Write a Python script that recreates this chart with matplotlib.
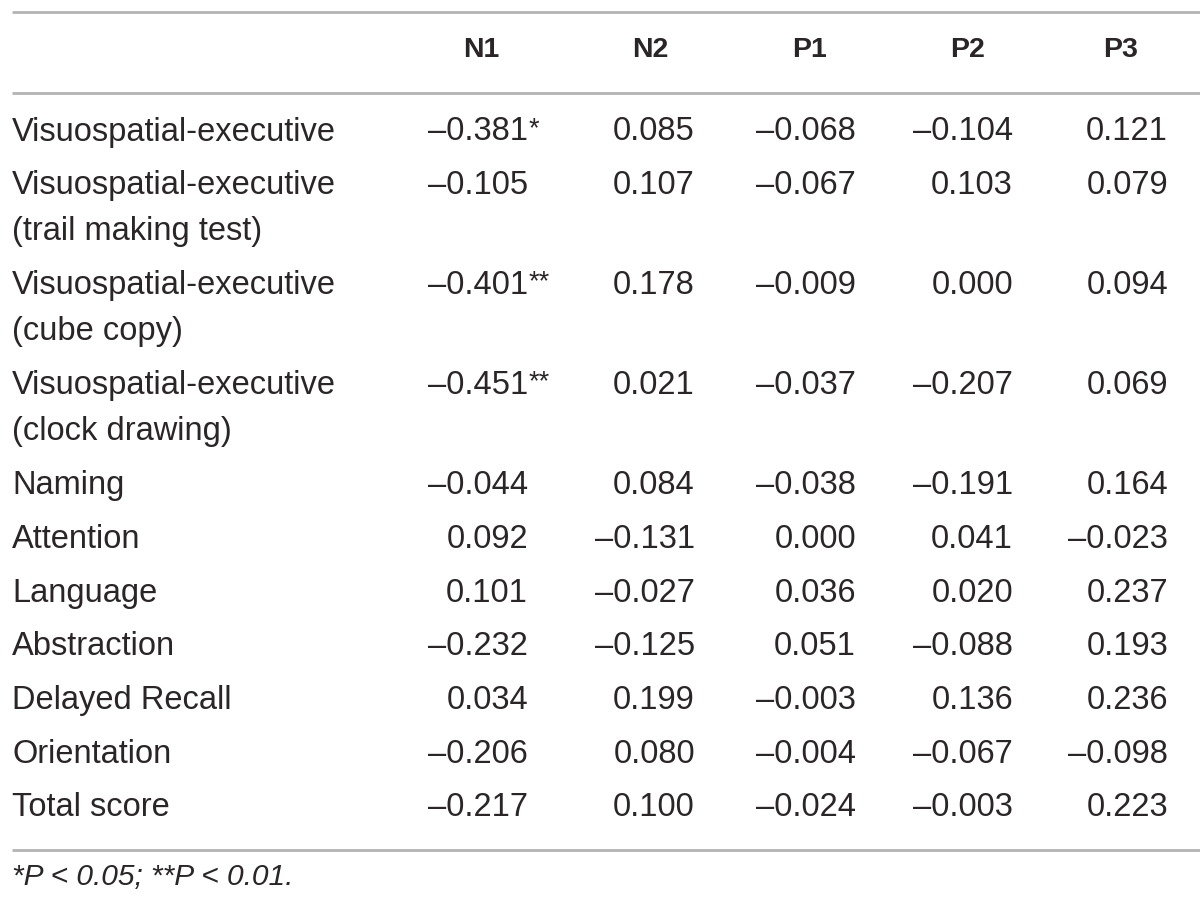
import matplotlib
matplotlib.use("Agg")
import matplotlib.pyplot as plt

plt.rcParams['font.family'] = ['Liberation Sans', 'DejaVu Sans']

columns = ["N1", "N2", "P1", "P2", "P3"]
rows = [
    ["Visuospatial-executive"],
    ["Visuospatial-executive", "(trail making test)"],
    ["Visuospatial-executive", "(cube copy)"],
    ["Visuospatial-executive", "(clock drawing)"],
    ["Naming"],
    ["Attention"],
    ["Language"],
    ["Abstraction"],
    ["Delayed Recall"],
    ["Orientation"],
    ["Total score"],
]
values = [
    ["–0.381", "0.085", "–0.068", "–0.104", "0.121"],
    ["–0.105", "0.107", "–0.067", "0.103", "0.079"],
    ["–0.401", "0.178", "–0.009", "0.000", "0.094"],
    ["–0.451", "0.021", "–0.037", "–0.207", "0.069"],
    ["–0.044", "0.084", "–0.038", "–0.191", "0.164"],
    ["0.092", "–0.131", "0.000", "0.041", "–0.023"],
    ["0.101", "–0.027", "0.036", "0.020", "0.237"],
    ["–0.232", "–0.125", "0.051", "–0.088", "0.193"],
    ["0.034", "0.199", "–0.003", "0.136", "0.236"],
    ["–0.206", "0.080", "–0.004", "–0.067", "–0.098"],
    ["–0.217", "0.100", "–0.024", "–0.003", "0.223"],
]
# significance marks (only in N1 column)
stars = [["*", "", "", "", ""],
         ["", "", "", "", ""],
         ["**", "", "", "", ""],
         ["**", "", "", "", ""]] + [["", "", "", "", ""]] * 7
footnote = "*P < 0.05; **P < 0.01."

txt = "#2a2627"
line_c = "#b3b3b3"
fs = 23.5

fig = plt.figure(figsize=(12, 9.1), dpi=100)
ax = fig.add_axes([0, 0, 1, 1])
ax.set_xlim(0, 1200)
ax.set_ylim(910, 0)
ax.axis("off")

col_right = [528, 695, 856, 1013, 1168]
col_head = [481, 650, 809, 968, 1121]

for y in [12, 93, 850]:
    ax.plot([12, 1200], [y, y], color=line_c, lw=2, solid_capstyle="butt")

for x, c in zip(col_head, columns):
    ax.text(x, 50, c, ha="center", va="center", fontsize=20.5,
            fontweight="bold", color=txt)

y = 132
for label, vals, st in zip(rows, values, stars):
    for i, line in enumerate(label):
        ax.text(12, y + i * 46, line, ha="left", va="center",
                fontsize=fs, color=txt)
    for x, v, s in zip(col_right, vals, st):
        ax.text(x, y, v, ha="right", va="center", fontsize=fs, color=txt)
        if s:
            ax.text(x + 1, y - 3, s, ha="left", va="center",
                    fontsize=fs - 4, color=txt)
    y += 100 if len(label) > 1 else 53.7

ax.text(12, 877, footnote, ha="left", va="center", fontsize=21.5,
        style="italic", color=txt)

fig.savefig("out.png", dpi=100)
